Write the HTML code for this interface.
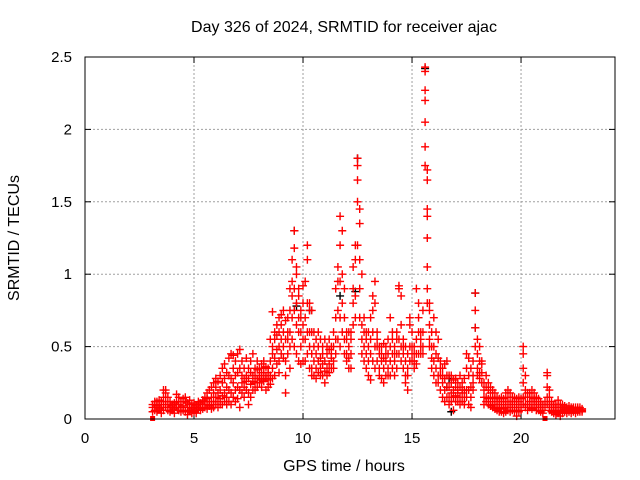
<!DOCTYPE html>
<html><head><meta charset="utf-8"><style>
body{margin:0;background:#fff;}
svg{display:block;font-family:"Liberation Sans",sans-serif;}
</style></head><body>
<svg id="chart" width="640" height="480" viewBox="0 0 640 480" xmlns="http://www.w3.org/2000/svg">
<text x="344" y="32" font-size="16" text-anchor="middle" fill="#000">Day 326 of 2024, SRMTID for receiver ajac</text>
<text x="0" y="0" font-size="16" text-anchor="middle" fill="#000" transform="translate(19,238) rotate(-90)">SRMTID / TECUs</text>
<text x="344" y="471" font-size="16" text-anchor="middle" fill="#000">GPS time / hours</text>
<g id="grid"></g><g id="ticks"></g><g id="marks"></g>
<rect x="85" y="57" width="530" height="362" fill="none" stroke="#000" stroke-width="1"/>
</svg>
<script>
const xTicks=[0,5,10,15,20];
const yTicks=[0,0.5,1,1.5,2,2.5];
const yTickLabels=["0","0.5","1","1.5","2","2.5"];
const times=[3.1,3.2,3.3,3.4,3.5,3.6,3.7,3.8,3.9,4.0,4.1,4.2,4.3,4.4,4.5,4.6,4.7,4.8,4.9,5.0,5.1,5.2,5.3,5.4,5.5,5.6,5.7,5.8,5.9,6.0,6.1,6.2,6.3,6.4,6.5,6.6,6.7,6.8,6.9,7.0,7.1,7.2,7.3,7.4,7.5,7.6,7.7,7.8,7.9,8.0,8.1,8.2,8.3,8.4,8.5,8.6,8.7,8.8,8.9,9.0,9.1,9.2,9.3,9.4,9.5,9.6,9.7,9.8,9.9,10.0,10.1,10.2,10.3,10.4,10.5,10.6,10.7,10.8,10.9,11.0,11.1,11.2,11.3,11.4,11.5,11.6,11.7,11.8,11.9,12.0,12.1,12.2,12.3,12.4,12.5,12.6,12.7,12.8,12.9,13.0,13.1,13.2,13.3,13.4,13.5,13.6,13.7,13.8,13.9,14.0,14.1,14.2,14.3,14.4,14.5,14.6,14.7,14.8,14.9,15.0,15.1,15.2,15.3,15.4,15.5,15.6,15.7,15.8,15.9,16.0,16.1,16.2,16.3,16.4,16.5,16.6,16.7,16.8,16.9,17.0,17.1,17.2,17.3,17.4,17.5,17.6,17.7,17.8,17.9,18.0,18.1,18.2,18.3,18.4,18.5,18.6,18.7,18.8,18.9,19.0,19.1,19.2,19.3,19.4,19.5,19.6,19.7,19.8,19.9,20.0,20.1,20.2,20.3,20.4,20.5,20.6,20.7,20.8,20.9,21.0,21.1,21.2,21.3,21.4,21.5,21.6,21.7,21.8,21.9,22.0,22.1,22.2,22.3,22.4,22.5,22.6,22.7,22.8];
const values=[[.08,.05,.1],[.1,.06,.12],[.09,.12,.05],[.1,.07,.13],[.08,.12,.04],[.15,.1,.06,.2],[.2,.12,.08,.18],[.1,.15,.06],[.08,.12,.05],[.1,.06,.09],[.07,.11,.04],[.12,.08,.17],[.1,.15,.06],[.05,.12,.08],[.14,.09,.06],[.12,.05,.15],[.08,.03,.11],[.1,.06,.13],[.07,.04,.1],[.08,.05,.11],[.06,.09,.04],[.1,.07,.12],[.08,.11,.06],[.1,.13,.07],[.12,.08,.15],[.1,.18,.14,.07],[.2,.12,.09],[.15,.1,.22,.07],[.12,.18,.25,.08],[.22,.15,.1,.28],[.18,.26,.12,.08],[.3,.2,.14,.1],[.25,.16,.35,.1],[.38,.28,.18,.12],[.32,.22,.15,.1],[.3,.42,.2,.12],[.45,.28,.18,.1],[.35,.25,.15,.44],[.3,.2,.4,.12],[.45,.32,.22,.14],[.48,.35,.2,.08],[.4,.3,.18,.25],[.35,.22,.15,.28],[.3,.42,.2,.26],[.28,.35,.18,.1],[.32,.24,.4,.15],[.3,.45,.2,.26],[.35,.25,.3,.2],[.28,.34,.4,.22],[.3,.25,.35,.28],[.32,.27,.38,.22],[.35,.3,.26,.4],[.3,.36,.28,.2],[.32,.27,.22,.35],[.4,.3,.55,.24],[.5,.74,.35,.45,.28],[.55,.6,.42,.3],[.48,.58,.38,.65],[.6,.5,.7,.4,.32],[.55,.65,.45,.72],[.6,.75,.5,.42],[.68,.4,.55,.18,.3],[.7,.55,.45,.6],[.75,.6,.5,.9,.35],[.95,1.1,.85,.7,.55],[1.3,1.18,.9,.75,.5],[1.05,.8,.65,.45,1.0],[.7,.85,.6,.4,.9],[.6,.75,.5,.38,.7],[.55,.8,.65,.4,.92],[.95,.7,.55,.4],[1.2,1.1,.8,.6,.45],[.8,.6,.5,.35,.75],[.6,.45,.35,.75,.3],[.5,.4,.3,.6],[.45,.35,.55,.28],[.5,.4,.32,.6],[.42,.55,.3,.35],[.5,.38,.45,.3],[.4,.55,.33,.25],[.45,.5,.35,.3],[.48,.38,.55,.32],[.42,.5,.35,.45],[.5,.4,.6,.35],[.7,.55,.45,.9],[1.05,.95,.75,.55],[1.4,1.2,.95,.7,.5],[1.3,1.0,.8,.6],[.9,.7,.55,.45],[.55,.45,.6,.4],[.5,.6,.42,.35],[.55,.45,.35,.6],[.9,.8,1.05,.65],[1.2,1.1,.85,.7],[1.8,1.75,1.65,1.5,1.2],[1.45,1.35,1.1,.9,.7],[1.0,.65,.55,.45],[.6,.5,.4,.7],[.55,.45,.35,.6],[.5,.4,.3,.6],[.7,.45,.27,.55],[.85,.75,.6,.4],[.95,.8,.5,.35],[.6,.5,.4,.55],[.45,.35,.5,.3],[.5,.4,.28,.45],[.42,.52,.35,.25],[.5,.4,.3,.45],[.45,.55,.35,.3],[.5,.4,.7,.3],[.55,.45,.35,.6],[.5,.4,.3,.45],[.55,.45,.35,.6],[.9,.92,.55,.45],[.85,.5,.4,.65],[.55,.45,.35,.5],[.5,.4,.3,.25],[.45,.35,.2,.3],[.65,.5,.4,.7],[.5,.6,.4,.45],[.4,.5,.35,.45],[.55,.45,.9,.38],[.7,.8,.6,.45],[.6,.5,.45,.55],[.75,.6,.5,.45],[2.43,2.4,2.27,2.2,2.05,1.88,1.75],[1.72,1.65,1.45,1.4,1.25,1.05,.9,.8],[.8,.75,.65,.55,.5],[.6,.5,.42,.35],[.5,.7,.4,.3],[.6,.45,.35,.25],[.55,.42,.3,.25],[.4,.3,.2,.35],[.35,.25,.15,.3],[.38,.28,.2,.12],[.4,.3,.22,.15],[.3,.22,.15,.1],[.25,.18,.12,.3],[.2,.15,.06,.27],[.22,.16,.12,.28],[.25,.18,.12,.2],[.22,.15,.1,.3],[.25,.18,.12,.2],[.2,.15,.1,.28],[.45,.35,.2,.15],[.3,.42,.2,.1],[.35,.22,.15,.08],[.4,.3,.2,.25],[.87,.75,.63,.5],[.55,.45,.35,.3],[.5,.4,.32,.28],[.4,.32,.25,.38],[.25,.2,.15,.1],[.22,.15,.12,.3],[.2,.14,.1,.25],[.18,.12,.09,.22],[.15,.1,.08,.2],[.14,.1,.07,.18],[.12,.08,.06,.15],[.1,.07,.14,.05],[.12,.08,.05,.15],[.1,.07,.14,.04],[.12,.08,.18,.05],[.15,.1,.06,.2],[.12,.08,.18,.05],[.1,.15,.06,.12],[.12,.08,.05,.15],[.1,.14,.06,.02],[.12,.08,.15,.05],[.1,.14,.06],[.5,.45,.35,.25,.15,.1],[.2,.15,.1,.3,.08],[.15,.1,.18,.06],[.12,.18,.08,.15],[.15,.1,.2,.07],[.12,.18,.08,.14],[.15,.1,.06,.12],[.1,.14,.06,.08],[.08,.12,.05,.1],[.06,.1,.04],[.12,.08],[.32,.3,.22,.15,.1],[.15,.1,.06,.2],[.12,.08,.05,.1],[.1,.06,.04,.08],[.08,.05,.03,.1],[.06,.1,.04,.13],[.08,.05,.02,.1],[.06,.1,.04,.08],[.07,.05,.09],[.06,.08,.04],[.07,.05,.09],[.06,.08,.04],[.07,.05,.08],[.06,.08,.04],[.07,.05,.08],[.06,.08,.05],[.07,.05,.06]];
const blackTimes=[17.9,17.9,16.8,15.6,12.5,9.6,10.3,16.6,16.7,9.7,12.4,11.7];
const blackValues=[.87,.63,.05,2.42,1.8,1.3,.75,.22,.28,.78,.88,.85];
const squareTimes=[3.1,21.1];
const squareValues=[0,0];

const X0=85,X1=615,Y0=419,Y1=57,XMAX=24.31,YMAX=2.5;
const sx=t=>X0+(t/XMAX)*(X1-X0);
const sy=v=>Y0-(v/YMAX)*(Y0-Y1);
const NS="http://www.w3.org/2000/svg";
const grid=document.getElementById('grid'),ticks=document.getElementById('ticks'),marks=document.getElementById('marks');
function mk(tag,attrs,parent){const e=document.createElementNS(NS,tag);for(const k in attrs)e.setAttribute(k,attrs[k]);parent.appendChild(e);return e;}
xTicks.forEach(t=>{
  const x=sx(t);
  if(t>0){const g=mk('line',{x1:x,x2:x,y1:Y1,y2:Y0,stroke:'#a0a0a0','stroke-dasharray':'2,2'},grid);
  
  }
  mk('line',{x1:x,x2:x,y1:Y0,y2:Y0-6,stroke:'#000'},ticks);
  mk('line',{x1:x,x2:x,y1:Y1,y2:Y1+6,stroke:'#000'},ticks);
  const l=mk('text',{x:x,y:443,'font-size':15,'text-anchor':'middle'},ticks);
  l.textContent=String(t);
  
  
});
yTicks.forEach((v,i)=>{
  const y=sy(v);
  if(v>0&&v<YMAX){const g=mk('line',{x1:X0,x2:X1,y1:y,y2:y,stroke:'#a0a0a0','stroke-dasharray':'2,2'},grid);
  
  }
  mk('line',{x1:X0,x2:X0+6,y1:y,y2:y,stroke:'#000'},ticks);
  mk('line',{x1:X1,x2:X1-6,y1:y,y2:y,stroke:'#000'},ticks);
  const l=mk('text',{x:X0-13,y:y+5,'font-size':15,'text-anchor':'end'},ticks);
  l.textContent=yTickLabels[i];
  
  
});
function plus(t,v,color){
  const x=sx(t),y=sy(v);
  const p=mk('path',{d:`M${x-4},${y}h8M${x},${y-4}v8`,stroke:color,'stroke-width':1.4,fill:'none'},marks);
  
  
}
blackTimes.forEach((t,i)=>plus(t,blackValues[i],'#000'));
times.forEach((t,i)=>values[i].forEach(v=>plus(t,v,'#ff0000')));
squareTimes.forEach((t,i)=>{
  const r=mk('rect',{x:sx(t)-2.5,y:sy(squareValues[i])-3,width:5,height:5,fill:'#ff0000'},marks);
  
  
});
</script>
</body></html>
